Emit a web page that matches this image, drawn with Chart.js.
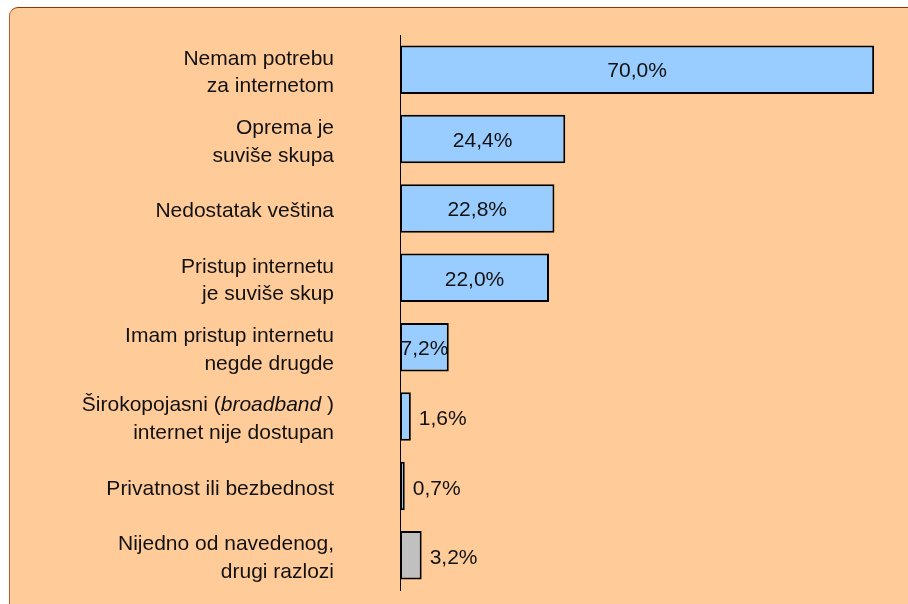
<!DOCTYPE html>
<html><head><meta charset="utf-8">
<script src="https://cdn.jsdelivr.net/npm/chart.js@4"></script>
<style>
html,body{margin:0;padding:0;width:908px;height:604px;overflow:hidden;background:#fff;}
#panel{position:absolute;left:9px;top:7px;width:930px;height:630px;background:#FFCC99;border-top:1px solid #993300;border-left:1px solid #B8602E;border-top-left-radius:9px;}
#wrap{position:absolute;left:0;top:0;width:908px;height:604px;}
</style></head><body>
<div id="panel"></div>
<div id="wrap"><canvas id="c" width="908" height="604"></canvas></div>
<script>
// Category labels (lines; *...* marks italic text)
const categories = [
  ["Nemam potrebu", "za internetom"],
  ["Oprema je", "suviše skupa"],
  ["Nedostatak veština"],
  ["Pristup internetu", "je suviše skup"],
  ["Imam pristup internetu", "negde drugde"],
  ["Širokopojasni (*broadband* )", "internet nije dostupan"],
  ["Privatnost ili bezbednost"],
  ["Nijedno od navedenog,", "drugi razlozi"]
];
const values = [70.0, 24.4, 22.8, 22.0, 7.2, 1.6, 0.7, 3.2];
const valueLabels = ["70,0%", "24,4%", "22,8%", "22,0%", "7,2%", "1,6%", "0,7%", "3,2%"];
const barColors = ["#99CCFF", "#99CCFF", "#99CCFF", "#99CCFF", "#99CCFF", "#99CCFF", "#99CCFF", "#C0C0C0"];

const FONT = '"Liberation Sans", Arial, sans-serif';
const FS = 21;

const textPlugin = {
  id: 'textPlugin',
  afterDatasetsDraw(chart) {
    const ctx = chart.ctx;
    const meta = chart.getDatasetMeta(0);
    const ys = chart.scales.y;
    ctx.save();
    ctx.fillStyle = '#111';
    // value labels
    ctx.font = FS + 'px ' + FONT;
    ctx.textBaseline = 'middle';
    meta.data.forEach((bar, i) => {
      const v = values[i];
      if (v >= 5) {
        ctx.textAlign = 'center';
        ctx.fillText(valueLabels[i], (bar.x + bar.base) / 2, bar.y + 2);
      } else {
        ctx.textAlign = 'left';
        ctx.fillText(valueLabels[i], bar.x + 8, bar.y + 3);
      }
    });
    // category labels
    ctx.textBaseline = 'alphabetic';
    const lineH = 27.6;
    const rightX = 334;
    categories.forEach((lines, i) => {
      const c = ys.getPixelForValue(i) + 1.5;
      const n = lines.length;
      lines.forEach((line, j) => {
        const yb = c + 7.2 + (j - (n - 1) / 2) * lineH;
        const segs = line.split('*').map((t, k) => ({ t, it: k % 2 === 1 }));
        let total = 0;
        segs.forEach(s => {
          ctx.font = (s.it ? 'italic ' : '') + FS + 'px ' + FONT;
          s.w = ctx.measureText(s.t).width;
          total += s.w;
        });
        let x = rightX - total;
        ctx.textAlign = 'left';
        segs.forEach(s => {
          ctx.font = (s.it ? 'italic ' : '') + FS + 'px ' + FONT;
          ctx.fillText(s.t, x, yb);
          x += s.w;
        });
      });
    });
    ctx.restore();
  }
};

new Chart(document.getElementById('c'), {
  type: 'bar',
  data: {
    labels: categories.map(l => l.join(' ').replace(/\*/g, '')),
    datasets: [{
      data: values,
      backgroundColor: barColors,
      borderColor: '#000',
      borderWidth: 2,
      borderSkipped: false,
      barPercentage: 0.7,
      categoryPercentage: 1
    }]
  },
  options: {
    indexAxis: 'y',
    responsive: false,
    animation: false,
    devicePixelRatio: 1,
    layout: { padding: { top: 35, bottom: 14, left: 0, right: 0 } },
    plugins: { legend: { display: false }, tooltip: { enabled: false } },
    scales: {
      x: { display: false, min: 0, max: 75 },
      y: {
        grid: { display: false },
        border: { display: true, color: '#000', width: 1 },
        ticks: { display: false },
        afterFit(s) { s.width = 400; }
      }
    }
  },
  plugins: [textPlugin]
});
</script>
</body></html>
